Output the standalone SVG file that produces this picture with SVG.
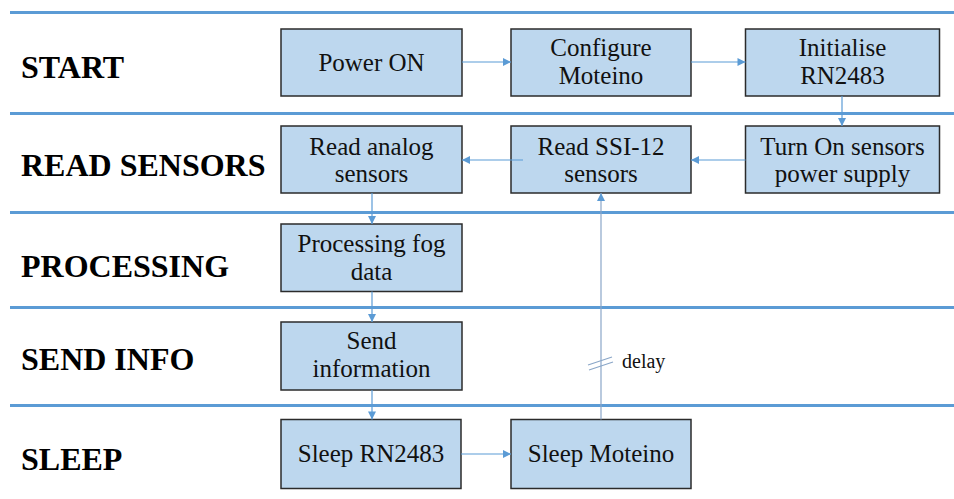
<svg xmlns="http://www.w3.org/2000/svg" width="954" height="499" viewBox="0 0 954 499">
<defs>
<style>
.lane{stroke:#5b9bd5;stroke-width:3.2;fill:none}
.box{fill:#bdd7ee;stroke:#2b2b2b;stroke-width:1.5}
.t{font-family:"Liberation Serif","Times New Roman",serif;font-size:25px;fill:#111;text-anchor:middle}
.h{font-family:"Liberation Serif","Times New Roman",serif;font-size:32px;font-weight:bold;fill:#000}
.c{stroke:#5b9bd5;stroke-width:1.2;fill:none}
.d{stroke:#8aa6c8;stroke-width:1.2;fill:none}
</style>
<marker id="ah" viewBox="0 0 10 10" refX="10" refY="5" markerWidth="9" markerHeight="8" markerUnits="userSpaceOnUse" orient="auto">
<path d="M0,0 L10,5 L0,10 z" fill="#5b9bd5"/>
</marker>
</defs>
<rect width="954" height="499" fill="#fff"/>
<g id="lanes">
<line class="lane" x1="10" y1="12.5" x2="954" y2="12.5"/>
<line class="lane" x1="10" y1="113.5" x2="954" y2="113.5"/>
<line class="lane" x1="10" y1="212.5" x2="954" y2="212.5"/>
<line class="lane" x1="10" y1="307.5" x2="954" y2="307.5"/>
<line class="lane" x1="10" y1="405.5" x2="954" y2="405.5"/>
<text class="h" x="21" y="78">START</text>
<text class="h" x="21" y="176">READ SENSORS</text>
<text class="h" x="21" y="277">PROCESSING</text>
<text class="h" x="21" y="370">SEND INFO</text>
<text class="h" x="21" y="470">SLEEP</text>
</g>
<g id="n1"><rect class="box" x="281" y="29" width="181" height="67"/><text class="t" x="371.5" y="71">Power ON</text></g>
<g id="n2"><rect class="box" x="511" y="29" width="180" height="67"/><text class="t" x="601" y="56">Configure</text><text class="t" x="601" y="83.5">Moteino</text></g>
<g id="n3"><rect class="box" x="745.5" y="29" width="194" height="67"/><text class="t" x="842.5" y="56">Initialise</text><text class="t" x="842.5" y="83.5">RN2483</text></g>
<g id="n4"><rect class="box" x="281" y="126" width="181" height="67"/><text class="t" x="371.5" y="154.5">Read analog</text><text class="t" x="371.5" y="182">sensors</text></g>
<g id="n5"><rect class="box" x="511" y="126" width="180" height="67"/><text class="t" x="601" y="154.5">Read SSI-12</text><text class="t" x="601" y="182">sensors</text></g>
<g id="n6"><rect class="box" x="745.5" y="126" width="194" height="67"/><text class="t" x="842.5" y="154.5">Turn On sensors</text><text class="t" x="842.5" y="182">power supply</text></g>
<g id="n7"><rect class="box" x="281" y="224" width="181" height="67.5"/><text class="t" x="371.5" y="251.5">Processing fog</text><text class="t" x="371.5" y="280">data</text></g>
<g id="n8"><rect class="box" x="281" y="322" width="181" height="68"/><text class="t" x="371.5" y="349">Send</text><text class="t" x="371.5" y="377">information</text></g>
<g id="n9"><rect class="box" x="281" y="419.5" width="180" height="69"/><text class="t" x="371" y="462">Sleep RN2483</text></g>
<g id="n10"><rect class="box" x="511" y="419.5" width="180" height="69"/><text class="t" x="601" y="462">Sleep Moteino</text></g>
<g id="connectors">
<line class="c" x1="462" y1="62" x2="511" y2="62" marker-end="url(#ah)"/>
<line class="c" x1="691" y1="62" x2="745.5" y2="62" marker-end="url(#ah)"/>
<line class="c" x1="842" y1="96" x2="842" y2="126" marker-end="url(#ah)"/>
<line class="c" x1="745.5" y1="160" x2="691" y2="160" marker-end="url(#ah)"/>
<line class="c" x1="523" y1="160" x2="462" y2="160" marker-end="url(#ah)"/>
<line class="c" x1="372" y1="193" x2="372" y2="224" marker-end="url(#ah)"/>
<line class="c" x1="372" y1="291.5" x2="372" y2="322" marker-end="url(#ah)"/>
<line class="c" x1="372" y1="390" x2="372" y2="419.5" marker-end="url(#ah)"/>
<line class="c" x1="461" y1="454" x2="511" y2="454" marker-end="url(#ah)"/>
<line class="d" x1="601" y1="419.5" x2="601" y2="193" marker-end="url(#ah)"/>
<line class="d" x1="588" y1="365" x2="612" y2="357"/>
<line class="d" x1="589" y1="370" x2="613" y2="362"/>
<text x="622" y="368" style="font-family:'Liberation Serif','Times New Roman',serif;font-size:20px;fill:#111">delay</text>
</g>
</svg>
